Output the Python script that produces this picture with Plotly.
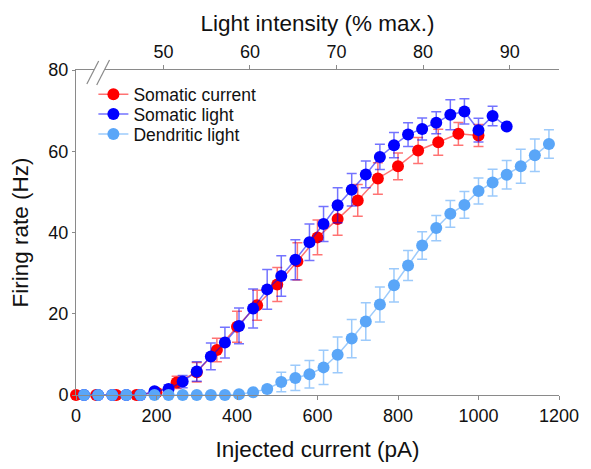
import plotly.graph_objects as go

# Somatic current injection: firing rate vs injected current
current_pA = [0, 50, 100, 150, 200, 250, 300, 350, 400, 450, 500, 550, 600,
              650, 700, 750, 800, 850, 900, 950, 1000]
current_rate = [0, 0, 0, 0, 0.6, 3.1, 5.6, 11.1, 16.8, 22.1, 27.2, 32.9, 38.8,
                43.3, 47.9, 53.3, 56.3, 60.2, 62.2, 64.3, 63.9]
current_err = [0, 0, 0, 0, 0.8, 1.5, 2.4, 2.9, 3.8, 3.7, 4.2, 4.6, 4.3,
               4.0, 3.9, 3.9, 3.3, 3.2, 3.2, 2.8, 2.7]

# Somatic light stimulation, expressed as current-equivalent (pA)
soma_light_pA = [20, 55, 90, 125, 160, 195, 230, 265, 300, 335, 370, 405, 440,
                 475, 510, 545, 580, 615, 650, 685, 720, 755, 790, 825, 860,
                 895, 930, 965, 1000, 1035, 1070]
soma_light_rate = [0, 0, 0, 0, 0, 0.9, 1.5, 3.3, 5.8, 9.5, 12.9, 17.0, 21.3,
                   26.0, 29.3, 33.3, 37.6, 42.1, 46.7, 50.5, 54.3, 58.6, 61.5,
                   64.1, 65.5, 67.0, 69.0, 69.8, 65.2, 68.7, 66.1]
soma_light_err = [0, 0, 0, 0, 0, 0.5, 1.0, 1.5, 2.4, 3.3, 3.8, 4.4, 4.8,
                  4.9, 5.0, 4.9, 4.5, 4.3, 4.3, 4.0, 3.3, 3.1, 3.1, 2.9, 2.7,
                  2.7, 3.7, 3.1, 2.9, 2.4, 0]

# Dendritic light stimulation
dend_light_pA = [20, 55, 90, 125, 160, 195, 230, 265, 300, 335, 370, 405, 440,
                 475, 510, 545, 580, 615, 650, 685, 720, 755, 790, 825, 860,
                 895, 930, 965, 1000, 1035, 1070, 1105, 1140, 1175]
dend_light_rate = [0, 0, 0, 0, 0, 0, 0, 0, 0, 0, 0, 0.2, 0.7, 1.5, 3.2, 4.2,
                   5.1, 6.8, 9.9, 13.9, 18.1, 22.3, 27.0, 31.9, 36.8, 41.1,
                   44.6, 46.8, 50.2, 52.3, 54.2, 56.3, 59.0, 61.8]
dend_light_err = [0, 0, 0, 0, 0, 0, 0, 0, 0, 0, 0, 0.2, 0.4, 0.8, 2.4, 3.1,
                  3.4, 4.2, 4.4, 4.7, 4.6, 4.3, 4.1, 3.7, 3.4, 3.1, 3.3, 3.3,
                  3.2, 3.3, 3.5, 4.2, 4.0, 3.5]

# Top axis: light intensity (% of max)
light_ticks = [50, 60, 70, 80, 90]
light_range = [39.9, 95.7]

FONT = "Liberation Sans, Arial, sans-serif"
AXIS_GREY = "#8a8a8a"

series = [
    ("Somatic current", current_pA, current_rate, current_err,
     "#ff0000", "rgba(255,0,0,0.55)", "legend"),
    ("Somatic light", soma_light_pA, soma_light_rate, soma_light_err,
     "#0000ff", "rgba(0,0,255,0.55)", "legend2"),
    ("Dendritic light", dend_light_pA, dend_light_rate, dend_light_err,
     "#5aa6f8", "rgba(90,166,248,0.6)", "legend3"),
]

fig = go.Figure()
for name, xs, ys, es, col, faint, leg in series:
    fig.add_trace(go.Scatter(
        x=xs, y=ys, name=name, mode="lines+markers", legend=leg,
        line=dict(color=faint, width=1.5),
        marker=dict(color=col, size=12, line=dict(width=0)),
        error_y=dict(type="data", array=es, visible=True,
                     color=faint, thickness=1.5, width=5),
        cliponaxis=False,
    ))

# anchor trace so the top light-intensity axis is rendered
fig.add_trace(go.Scatter(
    x=light_ticks, y=[0] * len(light_ticks), xaxis="x2", mode="markers",
    marker=dict(opacity=0), showlegend=False, hoverinfo="skip",
))

axis_common = dict(
    showline=True, linecolor=AXIS_GREY, linewidth=1,
    ticks="outside", tickcolor=AXIS_GREY, tickwidth=1,
    showgrid=False, zeroline=False,
    tickfont=dict(family=FONT, size=18, color="#111111"),
)


def legend_box(y):
    return dict(
        x=0.036, y=y, xanchor="left", yanchor="middle",
        bgcolor="rgba(0,0,0,0)", borderwidth=0,
        font=dict(family=FONT, size=17.5, color="#111111"),
        itemwidth=30,
    )


fig.update_layout(
    width=591, height=469,
    margin=dict(l=76, r=25, t=70, b=72),
    paper_bgcolor="white", plot_bgcolor="white",
    font=dict(family=FONT, color="#111111"),
    showlegend=True,
    legend=legend_box(0.925),
    legend2=legend_box(0.864),
    legend3=legend_box(0.803),
    xaxis=dict(
        range=[0, 1200], tickvals=[0, 200, 400, 600, 800, 1000, 1200],
        ticklen=4,
        title=dict(text="Injected current (pA)",
                   font=dict(family=FONT, size=22.5), standoff=16),
        **axis_common,
    ),
    xaxis2=dict(
        range=light_range, tickvals=light_ticks, overlaying="x", side="top",
        anchor="y", ticklen=4,
        title=dict(text="Light intensity (% max.)",
                   font=dict(family=FONT, size=22.5), standoff=3),
        **axis_common,
    ),
    yaxis=dict(
        range=[0, 80], tickvals=[0, 20, 40, 60, 80], ticklen=3,
        title=dict(text="Firing rate (Hz)",
                   font=dict(family=FONT, size=22.5), standoff=13),
        **axis_common,
    ),
)

# axis-break marks on the top axis
plot_w = 591 - 76 - 25
plot_h = 469 - 70 - 72


def px_to_paper(px, py):
    return (px - 76) / plot_w, (397 - py) / plot_h


a0 = px_to_paper(87, 84)
a1 = px_to_paper(99, 61)
b0 = px_to_paper(97, 85)
b1 = px_to_paper(110, 60)
fig.add_shape(type="path", xref="paper", yref="paper",
              path=f"M {a0[0]} {a0[1]} L {a1[0]} {a1[1]} L {b1[0]} {b1[1]} "
                   f"L {b0[0]} {b0[1]} Z",
              fillcolor="white", line=dict(width=0), layer="above")
for p0, p1 in ((a0, a1), (b0, b1)):
    fig.add_shape(type="line", xref="paper", yref="paper",
                  x0=p0[0], y0=p0[1], x1=p1[0], y1=p1[1],
                  line=dict(color=AXIS_GREY, width=1.2), layer="above")

fig.write_html("out.html")
